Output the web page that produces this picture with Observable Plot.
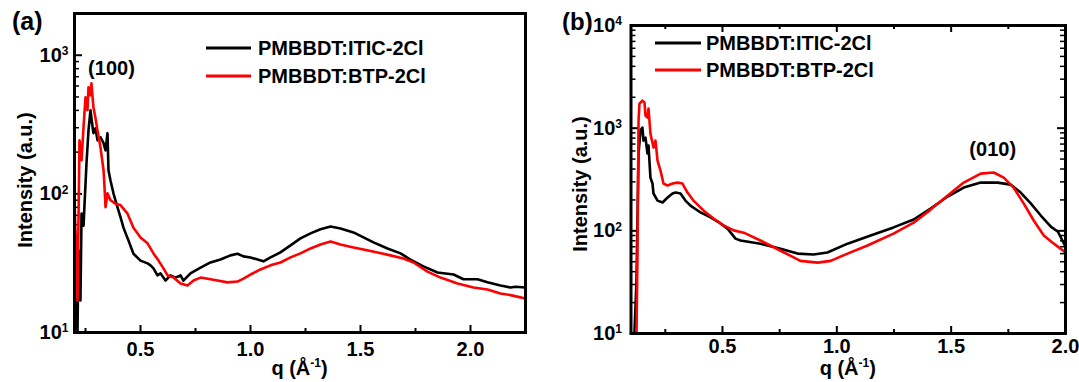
<!DOCTYPE html>
<html><head><meta charset="utf-8">
<script src="https://cdn.jsdelivr.net/npm/d3@7"></script>
<script src="https://cdn.jsdelivr.net/npm/@observablehq/plot@0.6"></script>
<style>
html,body{margin:0;padding:0;background:#fff;}
#wrap{display:flex;width:1079px;height:382px;overflow:hidden;}
#wrap svg{display:block;flex:none;}
</style></head><body><div id="wrap"></div>
<script>
// ---------- data: panel (a) ----------
const seriesNames = ["PMBBDT:ITIC-2Cl", "PMBBDT:BTP-2Cl"];
const qA_ITIC = [0.200,0.2045,0.2136,0.218,0.227,0.232,0.241,0.2545,0.2636,0.2727,0.277,0.286,0.2955,0.3045,0.318,0.332,0.341,0.350,0.3545,0.3636,0.377,0.3955,0.409,0.4227,0.4455,0.468,0.500,0.532,0.5455,0.559,0.577,0.591,0.6136,0.636,0.659,0.682,0.695,0.727,0.773,0.818,0.8636,0.909,0.941,0.968,1.000,1.032,1.059,1.091,1.136,1.182,1.227,1.273,1.318,1.364,1.409,1.468,1.5136,1.559,1.6227,1.682,1.727,1.786,1.850,1.923,1.968,2.032,2.077,2.136,2.182,2.2045,2.250];
const IA_ITIC = [46,24,10,39,17,72,59,166,287,401,351,274,297,243,256,232,206,274,148,125,101,80,68,57,46,37,33,31.5,30.5,29,25.8,26.7,23.7,25.8,24.9,25.8,23.7,26.7,29.4,32,33.6,36,37,35.4,34.8,33.6,32.6,34.8,37.8,42.5,47.7,51.9,55.5,58.2,56.3,52.7,48.5,44.7,40.4,37.2,33.6,30,27.1,26.2,24.2,24.2,23,21.8,21.1,21.4,21.1];
const qA_BTP = [0.200,0.2045,0.2136,0.2227,0.232,0.241,0.250,0.259,0.2636,0.2727,0.277,0.286,0.2955,0.3045,0.318,0.332,0.336,0.341,0.350,0.3636,0.386,0.409,0.441,0.468,0.500,0.532,0.559,0.582,0.6045,0.623,0.650,0.682,0.7136,0.741,0.773,0.818,0.850,0.8955,0.941,0.968,1.000,1.045,1.091,1.136,1.182,1.227,1.273,1.318,1.364,1.409,1.468,1.5136,1.577,1.636,1.695,1.741,1.8045,1.8636,1.941,2.0136,2.077,2.136,2.182,2.250];
const IA_BTP = [90,54,17,243,175,302,498,401,587,514,628,422,351,287,217,148,115,80,101,90,85,83,72,57,48.5,44,37.2,33,29,25.8,24.9,22.6,21.8,23.7,24.9,24.2,23.7,23,23.3,24.5,26.2,28.5,30.5,32,34.8,37.2,40.4,43.1,45.4,43.1,41.1,39.7,37.8,36,34.2,32,27.5,24.9,22.6,21.1,20.4,19.1,18.6,17.6];

// ---------- data: panel (b) ----------
const qB_ITIC = [0.100,0.115,0.124,0.133,0.1416,0.150,0.1547,0.1634,0.172,0.1766,0.185,0.194,0.1984,0.216,0.238,0.260,0.2815,0.2947,0.3165,0.338,0.360,0.404,0.448,0.491,0.522,0.557,0.579,0.666,0.754,0.828,0.898,0.959,1.047,1.148,1.248,1.336,1.410,1.485,1.555,1.629,1.703,1.760,1.804,1.848,1.892,1.936,1.967,2.000];
const IB_ITIC = [10,10,33,566,948,1014,757,809,566,678,330,289,231,197,189,211,231,236,231,197,176,151,135,118,105,84,80.5,75,67,60,58.8,61.5,75,90,108,129,165,216,264,295,295,282,236,185,141,110,98,70];
const qB_BTP = [0.100,0.124,0.1284,0.133,0.137,0.150,0.159,0.1634,0.172,0.1766,0.185,0.1984,0.207,0.216,0.229,0.242,0.260,0.2815,0.303,0.325,0.347,0.373,0.417,0.461,0.505,0.549,0.593,0.666,0.754,0.841,0.916,0.973,1.047,1.134,1.248,1.336,1.410,1.485,1.555,1.629,1.686,1.730,1.773,1.817,1.861,1.905,1.949,2.000];
const IB_BTP = [10,10,64,1186,1737,1858,1774,1327,1268,1552,885,647,757,483,386,289,276,289,295,289,236,197,158,132,113,101,96,80.5,64,51,49,51,60,72,94,120,161,221,295,361,370,330,264,185,126,90,75,61.5];

// ---------- ticks / labels ----------
const xTickValues = [0.5, 1.0, 1.5, 2.0];
const xMinorValues = [0.25, 0.75, 1.25, 1.75];
const yTicksA = [10, 100, 1000];
const yTicksB = [10, 100, 1000, 10000];
const peakLabelA = "(100)";
const peakLabelB = "(010)";
const yTitle = "Intensity (a.u.)";
const panelLetters = ["(a)", "(b)"];
const colors = ["#000000", "#ff0000"];

const FONT = "'Liberation Sans', Arial, Helvetica, sans-serif";
const H = 382;

function minorLog(lo, hi) {
  const out = [];
  for (let e = Math.floor(Math.log10(lo)); e < Math.ceil(Math.log10(hi)); e++)
    for (let m = 2; m <= 9; m++) { const v = m * Math.pow(10, e); if (v > lo && v < hi) out.push(v); }
  return out;
}

function buildPanel(o) {
  const innerW = o.width - o.mL - o.mR, innerH = H - o.mT - o.mB;
  const black = o.qBlack.map((q, i) => ({q, I: o.IBlack[i]}));
  const red = o.qRed.map((q, i) => ({q, I: o.IRed[i]}));
  const anchor = red.filter(o.peakFilter).reduce((a, b) => (b.I > a.I ? b : a));
  const yMinor = minorLog(o.yDomain[0], o.yDomain[1]);
  const marks = [
    Plot.tickX(xTickValues, {x: d => d, insetTop: innerH - 7, stroke: "#000", strokeWidth: 2}),
    Plot.tickX(xMinorValues, {x: d => d, insetTop: innerH - 4, stroke: "#000", strokeWidth: 2}),
    Plot.tickY(o.yTicks, {y: d => d, insetRight: innerW - 8, stroke: "#000", strokeWidth: 2}),
    Plot.tickY(yMinor, {y: d => d, insetRight: innerW - 5, stroke: "#000", strokeWidth: 1.5})
  ];
  if (o.mirror) {
    marks.push(
      Plot.tickX(xTickValues, {x: d => d, insetBottom: innerH - 7, stroke: "#000", strokeWidth: 2}),
      Plot.tickX(xMinorValues, {x: d => d, insetBottom: innerH - 4, stroke: "#000", strokeWidth: 2}),
      Plot.tickY(o.yTicks, {y: d => d, insetLeft: innerW - 8, stroke: "#000", strokeWidth: 2}),
      Plot.tickY(yMinor, {y: d => d, insetLeft: innerW - 5, stroke: "#000", strokeWidth: 1.5})
    );
  }
  marks.push(
    Plot.line(black, {x: "q", y: "I", stroke: colors[0], strokeWidth: 2.6, strokeLinejoin: "round"}),
    Plot.line(red, {x: "q", y: "I", stroke: colors[1], strokeWidth: 2.6, strokeLinejoin: "round"}),
    Plot.axisX(xTickValues, {tickSize: 0, tickPadding: o.xPad, tickFormat: d3.format(".1f"), label: null, fontSize: 20, fontWeight: "bold", fill: "#000"}),
    Plot.axisY(o.yTicks, {tickSize: 0, tickPadding: o.yPad, tickFormat: d => String(Math.round(Math.log10(d))), label: null, fontSize: 20, fontWeight: "bold", fill: "#000"}),
    Plot.text([anchor], {x: "q", y: "I", text: () => o.peakText, dx: o.peakDx, dy: o.peakDy, fontSize: 20, fontWeight: "bold", fill: "#000"}),
    Plot.frame({stroke: "#000", strokeWidth: 3})
  );
  const svg = Plot.plot({
    width: o.width, height: H,
    marginLeft: o.mL, marginRight: o.mR, marginTop: o.mT, marginBottom: o.mB,
    x: {domain: o.xDomain},
    y: {type: "log", domain: o.yDomain},
    style: {background: "#fff", color: "#000", fontFamily: FONT, fontSize: "20px", fontWeight: "bold", overflow: "visible"},
    marks
  });
  const s = d3.select(svg);
  // superscript exponents on y tick labels
  s.selectAll('g[aria-label="y-axis tick label"] text').each(function () {
    const e = this.textContent;
    this.textContent = "10";
    d3.select(this).append("tspan").attr("dy", "-0.55em").attr("font-size", "12px").text(e);
  });
  const txt = (x, y) => s.append("text").attr("x", x).attr("y", y).attr("text-anchor", "start")
    .attr("font-family", FONT).attr("font-weight", "bold").attr("font-size", 20).attr("fill", "#000");
  // y title
  s.append("text").attr("transform", `translate(${o.yTitleX},${o.yTitleY}) rotate(-90)`)
    .attr("text-anchor", "middle").attr("dy", "0.35em")
    .attr("font-family", FONT).attr("font-weight", "bold").attr("font-size", 20).text(yTitle);
  // x title
  const xt = txt(o.mL + innerW / 2, 375).attr("text-anchor", "middle");
  xt.append("tspan").text("q (Å");
  xt.append("tspan").attr("dy", -8).attr("font-size", 12).text("-1");
  xt.append("tspan").attr("dy", 8).text(")");
  // legend
  seriesNames.forEach((name, i) => {
    const y = o.legY[i];
    s.append("line").attr("x1", o.legX1).attr("x2", o.legX2).attr("y1", y).attr("y2", y)
      .attr("stroke", colors[i]).attr("stroke-width", 3);
    txt(o.legTX, y).attr("dy", "0.35em").text(name);
  });
  // panel letter
  txt(o.letterX, 30).attr("font-size", o.letterSize).text(o.letter);
  return svg;
}

const wrap = document.getElementById("wrap");
wrap.appendChild(buildPanel({
  width: 540, mL: 74, mR: 15, mT: 13, mB: 50,
  xDomain: [0.2, 2.25], yDomain: [10, 2000], yTicks: yTicksA,
  qBlack: qA_ITIC, IBlack: IA_ITIC, qRed: qA_BTP, IRed: IA_BTP,
  peakFilter: d => d.q < 0.5, peakText: peakLabelA, peakDx: 20, peakDy: -15,
  xPad: 9, yPad: 6, mirror: false,
  yTitleX: 25, yTitleY: 180,
  legX1: 206, legX2: 251, legTX: 258, legY: [48, 76],
  letter: panelLetters[0], letterX: 12, letterSize: 25
}));
wrap.appendChild(buildPanel({
  width: 539, mL: 90.5, mR: 14, mT: 25, mB: 49,
  xDomain: [0.1, 2.0], yDomain: [10, 10000], yTicks: yTicksB,
  qBlack: qB_ITIC, IBlack: IB_ITIC, qRed: qB_BTP, IRed: IB_BTP,
  peakFilter: d => d.q > 1, peakText: peakLabelB, peakDx: -1, peakDy: -23,
  xPad: 5, yPad: 9, mirror: true,
  yTitleX: 40, yTitleY: 184,
  legX1: 115, legX2: 161, legTX: 166, legY: [43, 70],
  letter: panelLetters[1], letterX: 22, letterSize: 24
}));
</script></body></html>
